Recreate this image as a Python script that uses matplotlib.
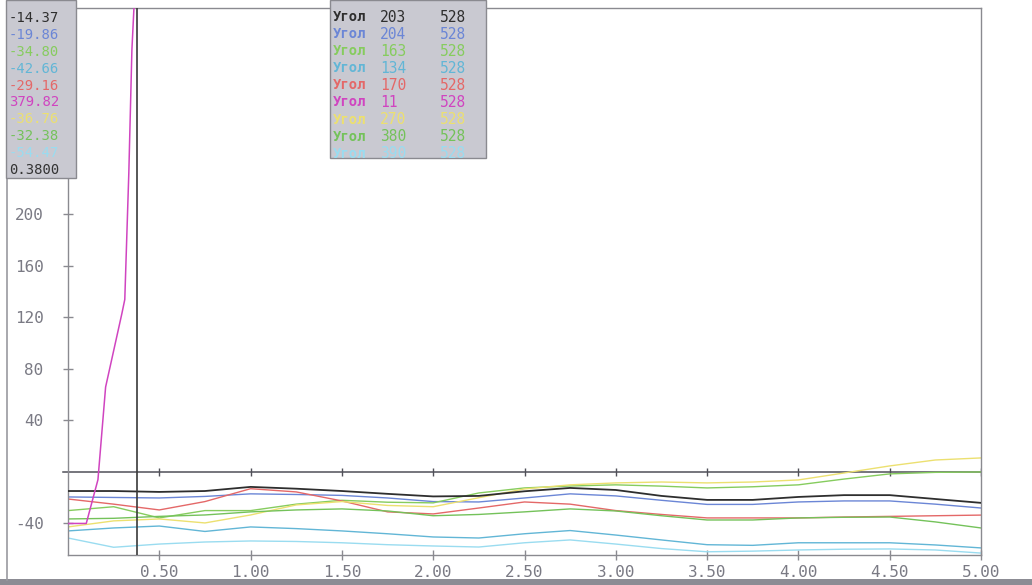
import matplotlib
matplotlib.use("Agg")
import matplotlib.pyplot as plt
import numpy as np

# x grid shared by most channels
xs = [0, 0.25, 0.5, 0.75, 1.0, 1.25, 1.5, 1.75, 2.0, 2.25, 2.5,
      2.75, 3.0, 3.25, 3.5, 3.75, 4.0, 4.25, 4.5, 4.75, 5.0]

black = [-14.8, -14.8, -15.5, -14.8, -11.6, -13.0, -14.8, -17.0, -19.0, -18.6, -15.0,
         -12.4, -14.0, -18.6, -21.7, -21.7, -19.4, -18.0, -18.0, -21.0, -24.0]
blue = [-19.4, -19.8, -20.2, -19.0, -17.0, -17.5, -18.2, -20.2, -23.0, -23.3, -20.2,
        -17.0, -18.6, -22.0, -25.2, -25.2, -23.3, -22.5, -22.5, -25.0, -28.0]
green1 = [-30.0, -27.0, -35.7, -30.0, -30.0, -25.0, -22.0, -23.5, -24.0, -16.3, -12.4,
          -10.9, -10.0, -11.0, -12.4, -11.5, -10.0, -5.5, -1.5, -0.3, 0.0]
ltblue = [-45.8, -43.5, -42.0, -46.2, -42.7, -44.0, -45.8, -48.0, -50.5, -51.3, -48.0,
          -45.5, -49.0, -52.8, -56.5, -57.0, -55.0, -55.0, -55.0, -56.7, -59.0]
red = [-21.0, -25.0, -29.5, -23.0, -13.0, -15.5, -22.5, -31.0, -32.6, -28.0, -23.3,
       -25.0, -30.0, -33.0, -35.7, -35.7, -35.7, -35.0, -34.5, -34.0, -33.5]
yellow = [-42.7, -38.0, -36.5, -39.6, -33.4, -25.6, -23.0, -26.0, -27.0, -20.0, -13.2,
          -10.0, -8.5, -7.8, -8.5, -7.8, -6.2, -0.8, 4.7, 9.3, 10.9]
green2 = [-36.5, -36.0, -34.5, -33.4, -31.0, -29.5, -28.7, -30.3, -34.0, -33.0, -31.0,
          -28.7, -30.3, -34.0, -37.3, -37.3, -35.7, -35.2, -35.0, -38.8, -43.5]
cyan = [-51.3, -58.5, -56.0, -54.4, -53.6, -54.0, -55.0, -56.5, -57.5, -58.3, -55.0,
        -52.8, -56.0, -59.5, -62.0, -61.5, -60.6, -60.0, -59.8, -60.6, -63.0]

mag_x = [0, 0.10, 0.164, 0.206, 0.295, 0.311, 0.333, 0.350, 0.361, 0.38, 0.5, 5.0]
mag_y = [-40, -40, -6, 66, 123, 134, 232, 328, 360, 379.82, 420, 420]

names = ["Угол"] * 9
nums = ["203", "204", "163", "134", "170", "11", "270", "380", "390"]
lens = ["528"] * 9
cursor_vals = ["-14.37", "-19.86", "-34.80", "-42.66", "-29.16", "379.82",
               "-36.76", "-32.38", "-54.47"]
cursor_x = 0.38

colors = ["#2e2e2e", "#6b86d6", "#86cc5e", "#62b6d6", "#e46868", "#d044c0",
          "#ece070", "#74c25a", "#9adcf0"]

xticks = [0.5, 1.0, 1.5, 2.0, 2.5, 3.0, 3.5, 4.0, 4.5, 5.0]
yticks = [-40, 40, 80, 120, 160, 200, 240, 280, 320]
ylabels = ["-40", "40", "80", "120", "160", "200", "", "", ""]  # top ones sit under the value box

mono = "DejaVu Sans Mono"
gray = "#7a7a84"

fig = plt.figure(figsize=(10.32, 5.85), dpi=100)
ax = fig.add_axes([68 / 1032, 30 / 585, 913 / 1032, 547 / 585])

series = [black, blue, green1, ltblue, red, None, yellow, green2, cyan]
for i, s in enumerate(series):
    if s is None:
        ax.plot(mag_x, mag_y, color=colors[i], lw=1.1, zorder=3)
    else:
        ax.plot(xs, s, color=colors[i], lw=1.3 if i == 0 else 1.0, zorder=3 if i == 0 else 2)

ax.set_xlim(0, 5.0)
ax.set_ylim(-64.5, 360.4)

# zero line with small ticks
ax.axhline(0, color="#505058", lw=1.1, zorder=1)
ax.plot(xticks, [0] * len(xticks), ls="none", marker="|", ms=6, color="#505058", zorder=1)
ax.plot([-0.03, 0], [0, 0], color="#505058", lw=1.1, clip_on=False)

# cursor
ax.axvline(cursor_x, color="#3a3a3a", lw=1.2, zorder=4)

for sp in ax.spines.values():
    sp.set_color("#8a8a90")
    sp.set_linewidth(1.0)

ax.set_xticks(xticks)
ax.set_xticklabels(["%.2f" % t for t in xticks], family=mono, fontsize=11.5, color=gray)
ax.set_yticks(yticks)
ax.set_yticklabels(ylabels, family=mono, fontsize=11.5, color=gray)
ax.tick_params(axis="both", direction="inout", length=7, width=1, color="#8a8a90", pad=4)
ax.tick_params(axis="y", pad=14)

# left value box (in figure pixels)
fx = lambda p: p / 1032
fy = lambda p: 1 - p / 585
fig.patches.append(plt.Rectangle((fx(6), fy(178)), fx(70), 178 / 585, transform=fig.transFigure,
                                 facecolor="#c9c9d1", edgecolor="#8a8a90", lw=1, zorder=5))
for i, v in enumerate(cursor_vals):
    fig.text(fx(9), fy(18 + i * 16.9), v, family=mono, fontsize=10, color=colors[i],
             va="center", ha="left", zorder=6)
fig.text(fx(9), fy(170), "%.4f" % cursor_x, family=mono, fontsize=10, color="#333333",
         va="center", ha="left", zorder=6)

# legend box
fig.patches.append(plt.Rectangle((fx(330), fy(158)), fx(156), 158 / 585, transform=fig.transFigure,
                                 facecolor="#c9c9d1", edgecolor="#8a8a90", lw=1, zorder=5))
for i in range(9):
    yy = fy(17 + i * 17.1)
    fig.text(fx(333), yy, names[i], family=mono, fontsize=10, fontweight="bold",
             color=colors[i], va="center", ha="left", zorder=6)
    fig.text(fx(380), yy, nums[i], family=mono, fontsize=10.5, color=colors[i],
             va="center", ha="left", zorder=6)
    fig.text(fx(440), yy, lens[i], family=mono, fontsize=10.5, color=colors[i],
             va="center", ha="left", zorder=6)

# outer frame of the window
fig.add_artist(plt.Line2D([fx(7), fx(7)], [fy(178), fy(580)], color="#9a9aa0", lw=1.2))
fig.patches.append(plt.Rectangle((0, 0), 1, 6 / 585, transform=fig.transFigure,
                                 facecolor="#8c8c94", edgecolor="none"))

fig.savefig("out.png", dpi=100)
